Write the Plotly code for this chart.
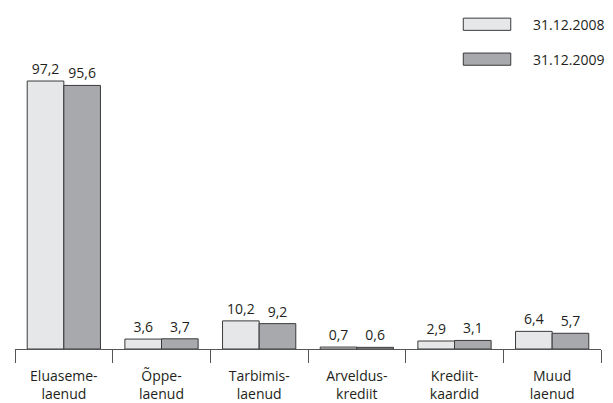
import plotly.graph_objects as go

# data
categories = ["Eluaseme-<br>laenud", "Õppe-<br>laenud", "Tarbimis-<br>laenud",
              "Arveldus-<br>krediit", "Krediit-<br>kaardid", "Muud<br>laenud"]
series_names = ["31.12.2008", "31.12.2009"]
values_2008 = [97.2, 3.6, 10.2, 0.7, 2.9, 6.4]
values_2009 = [95.6, 3.7, 9.2, 0.6, 3.1, 5.7]

colors = ["#e6e7e8", "#a7a9ac"]
FONT = "Open Sans, Noto Sans, sans-serif"

fig = go.Figure()
for name, vals, col in zip(series_names, [values_2008, values_2009], colors):
    fig.add_trace(go.Bar(
        x=categories, y=vals, name=name,
        marker=dict(color=col, line=dict(color="#3a3a3a", width=1)),
        texttemplate="%{y:.1f}", textposition="outside",
        textfont=dict(size=14, color="#231f20", family=FONT),
        cliponaxis=False,
    ))

# legend drawn by hand: wide flat swatches like the original
legend_top = [0.948, 0.848]
for name, col, top in zip(series_names, colors, legend_top):
    fig.add_shape(type="rect", xref="paper", yref="paper",
                  x0=0.765, x1=0.846, y0=top - 0.035, y1=top,
                  fillcolor=col, line=dict(color="#3a3a3a", width=1))
    fig.add_annotation(text=name, xref="paper", yref="paper",
                       x=0.88, y=top - 0.0175, xanchor="left", yanchor="middle",
                       showarrow=False, font=dict(size=14, color="#231f20", family=FONT))

fig.update_layout(
    width=613, height=403,
    template="none",
    margin=dict(l=15, r=12, t=0, b=54),
    paper_bgcolor="white", plot_bgcolor="white",
    barmode="group", bargap=0.25, bargroupgap=0,
    separators=",.",
    showlegend=False,
    font=dict(family=FONT, size=14, color="#231f20"),
    xaxis=dict(
        automargin=False,
        showline=True, linecolor="#555555", linewidth=1,
        ticks="outside", tickson="boundaries", ticklen=13, tickcolor="#555555",
        ticklabelstandoff=14,
        showgrid=False, tickfont=dict(size=14),
    ),
    yaxis=dict(range=[0, 349 / 2.757], visible=False, automargin=False),
)

# the page body has a default 8px margin; drop it so the chart sits at 0,0
fig.write_html("out.html", config={"displayModeBar": False},
               post_script="document.body.style.margin='0';")
